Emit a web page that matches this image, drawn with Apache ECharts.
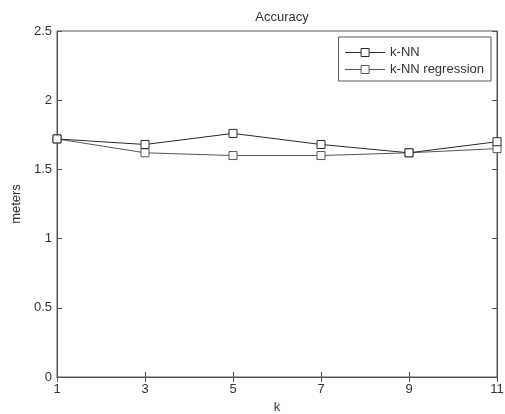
<!DOCTYPE html>
<html><head><meta charset="utf-8">
<script src="https://cdn.jsdelivr.net/npm/echarts@6/dist/echarts.min.js"></script>
<style>html,body{margin:0;padding:0;background:#fff}#c{width:505px;height:414px}</style>
</head><body><div id="c"></div>
<script>
const kValues = [1, 3, 5, 7, 9, 11];
const knn = [1.72, 1.68, 1.76, 1.68, 1.62, 1.70];
const knnRegression = [1.72, 1.62, 1.60, 1.60, 1.62, 1.65];
const yTicks = [0, 0.5, 1, 1.5, 2, 2.5];

const font = 'Liberation Sans, Arial, sans-serif';
const axisCol = '#555';
const chart = echarts.init(document.getElementById('c'), null, {renderer: 'canvas'});
const pair = (ys) => kValues.map((k, i) => [k, ys[i]]);
const tickFmt = (v) => (yTicks.includes(v) ? String(v) : '');

chart.setOption({
  animation: false,
  backgroundColor: '#fff',
  title: {text: 'Accuracy', left: 277, textAlign: 'center', top: 6,
    textStyle: {fontFamily: font, fontSize: 13, fontWeight: 'normal', color: '#333'}},
  grid: {left: 57, right: 8, top: 31, bottom: 37, containLabel: false,
    outerBoundsMode: 'none',
    show: true, borderColor: axisCol, borderWidth: 1},
  legend: {
    data: ['k-NN', 'k-NN regression'],
    orient: 'vertical', right: 14, top: 37,
    backgroundColor: '#fff', borderColor: axisCol, borderWidth: 1,
    padding: [9, 7, 5, 6], itemGap: 4, itemWidth: 40, itemHeight: 10,
    lineStyle: {width: 1},
    itemStyle: {borderWidth: 1},
    textStyle: {fontFamily: font, fontSize: 13, color: '#333'}
  },
  xAxis: [{
    type: 'value', min: 1, max: 11, interval: 2,
    name: 'k', nameLocation: 'middle', nameGap: 23,
    nameTextStyle: {fontFamily: font, fontSize: 13, color: '#333'},
    axisLine: {lineStyle: {color: axisCol}},
    axisTick: {inside: true, length: 5, lineStyle: {color: axisCol}},
    axisLabel: {fontFamily: font, fontSize: 13, color: '#333', margin: 6},
    splitLine: {show: false}
  }, {
    type: 'value', position: 'top', min: 1, max: 11, interval: 2,
    axisLine: {lineStyle: {color: axisCol}},
    axisTick: {inside: true, length: 5, lineStyle: {color: axisCol}},
    axisLabel: {show: false}, splitLine: {show: false}
  }],
  yAxis: [{
    type: 'value', min: 0, max: 2.5, interval: 0.5,
    name: 'meters', nameLocation: 'middle', nameGap: 26,
    nameTextStyle: {fontFamily: font, fontSize: 13, color: '#333'},
    axisLine: {show: true, lineStyle: {color: axisCol}},
    axisTick: {show: true, inside: true, length: 5, lineStyle: {color: axisCol}},
    axisLabel: {fontFamily: font, fontSize: 13, color: '#333', margin: 5, formatter: tickFmt},
    splitLine: {show: false}
  }, {
    type: 'value', position: 'right', min: 0, max: 2.5, interval: 0.5,
    axisLine: {show: true, lineStyle: {color: axisCol}},
    axisTick: {show: true, inside: true, length: 5, lineStyle: {color: axisCol}},
    axisLabel: {show: false}, splitLine: {show: false}
  }],
  series: [{
    name: 'k-NN', type: 'line', data: pair(knn),
    symbol: 'rect', symbolSize: 8, z: 3,
    lineStyle: {color: '#2a2a2a', width: 1},
    itemStyle: {color: '#fff', borderColor: '#2a2a2a', borderWidth: 1}
  }, {
    name: 'k-NN regression', type: 'line', data: pair(knnRegression),
    symbol: 'rect', symbolSize: 8, z: 2,
    lineStyle: {color: '#555', width: 1},
    itemStyle: {color: '#fff', borderColor: '#555', borderWidth: 1}
  }]
});
</script></body></html>
